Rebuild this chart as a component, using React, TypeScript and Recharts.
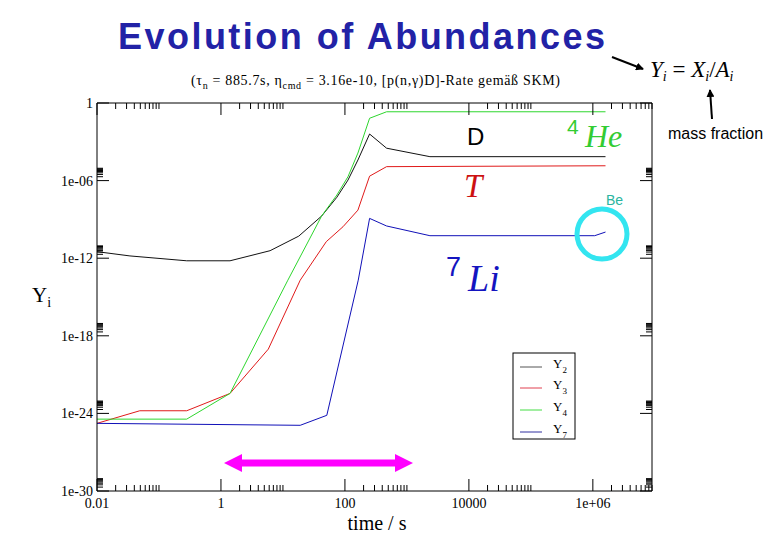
import { LineChart, Line, XAxis, YAxis } from 'recharts';

// time grid (s) and abundances Y_i
const timeY2 = [0.01, 0.034, 0.28, 1.4, 6.2, 18, 42, 74, 112, 162, 250, 470, 2350, 1.6e6];
const valY2 = [3.2e-12, 1.5e-12, 6.3e-13, 6.3e-13, 3.8e-12, 5.1e-11, 1.8e-9, 5.1e-8, 1.1e-6, 3.9e-5, 4.0e-3, 3.2e-4, 7.1e-5, 7.1e-5];

const timeY3 = [0.01, 0.049, 0.28, 1.4, 5.8, 19, 50, 93, 162, 250, 470, 1.6e6];
const valY3 = [1.7e-25, 1.6e-24, 1.6e-24, 3.5e-23, 9.3e-20, 2.0e-14, 1.9e-11, 2.7e-10, 5.2e-9, 2.2e-6, 1.2e-5, 1.4e-5];

const timeY4 = [0.01, 0.28, 1.4, 12, 42, 74, 112, 162, 250, 470, 1.6e6];
const valY4 = [3.6e-25, 3.6e-25, 3.5e-23, 2.0e-14, 1.8e-9, 7.6e-8, 2.0e-6, 1.35e-4, 0.066, 0.21, 0.21];

const timeY7 = [0.01, 19, 51, 164, 250, 470, 2350, 1.07e6, 1.6e6];
const valY7 = [1.7e-25, 1.2e-25, 7.1e-25, 2.0e-14, 1.2e-9, 3.1e-10, 5.5e-11, 5.5e-11, 1.05e-10];

const xMajor = [0.01, 1, 100, 10000, 1e6];
const xMajorLabels = ['0.01', '1', '100', '10000', '1e+06'];
const yMajor = [1e-30, 1e-24, 1e-18, 1e-12, 1e-6, 1];
const yMajorLabels = ['1e-30', '1e-24', '1e-18', '1e-12', '1e-06', '1'];

const SERIF = 'Liberation Serif';
const SANS = 'Liberation Sans';

const toPoints = (ts: number[], vs: number[]) => ts.map((t, i) => ({ t, y: vs[i] }));
const series = [
  { name: 'Y2', data: toPoints(timeY2, valY2), color: '#111111' },
  { name: 'Y3', data: toPoints(timeY3, valY3), color: '#e01a1a' },
  { name: 'Y4', data: toPoints(timeY4, valY4), color: '#2ed62e' },
  { name: 'Y7', data: toPoints(timeY7, valY7), color: '#1010b8' },
];

// minor ticks: 2..10 x 10^n after each labelled decade on x, 2..9 on y
const xMinor: number[] = [];
xMajor.forEach(m => {
  for (let k = 2; k <= 10; k++) if (m * k <= 9e6) xMinor.push(m * k);
});
const yMinor: number[] = [];
yMajor.forEach(m => {
  if (m < 1) for (let k = 2; k <= 9; k++) yMinor.push(m * k);
});
const xTicks = [...xMajor, ...xMinor];
const yTicks = [...yMajor, ...yMinor];

const labelOf = (v: number, majors: number[], labels: string[]) => {
  const i = majors.findIndex(m => Math.abs(Math.log10(m) - Math.log10(v)) < 1e-6);
  return i >= 0 ? labels[i] : null;
};

const tickText = { fontFamily: SERIF, fontSize: 14, fill: '#000' };

const makeXTick = (dir: number, withLabel: boolean) => (props: any) => {
  const { x, y, payload } = props;
  const lab = labelOf(payload.value, xMajor, xMajorLabels);
  return (
    <g>
      <line x1={x} x2={x} y1={y} y2={y + dir * (lab ? 12 : 6)} stroke="#000" />
      {withLabel && lab && (
        <text x={x} y={y + 17} textAnchor="middle" style={tickText}>
          {lab}
        </text>
      )}
    </g>
  );
};

const makeYTick = (dir: number, withLabel: boolean) => (props: any) => {
  const { x, y, payload } = props;
  const lab = labelOf(payload.value, yMajor, yMajorLabels);
  return (
    <g>
      <line x1={x} x2={x + dir * (lab ? 12 : 6)} y1={y} y2={y} stroke="#000" />
      {withLabel && lab && (
        <text x={x - 4} y={y + 5} textAnchor="end" style={tickText}>
          {lab}
        </text>
      )}
    </g>
  );
};

const legendRows = [
  { sub: '2', color: '#555555', y: 367 },
  { sub: '3', color: '#e04050', y: 388 },
  { sub: '4', color: '#44dd44', y: 410 },
  { sub: '7', color: '#3030a0', y: 432 },
];

const Overlay = () => (
  <svg width={780} height={540} style={{ position: 'absolute', left: 0, top: 0, pointerEvents: 'none' }}>
    <defs>
      <marker id="ah" markerWidth="8" markerHeight="8" refX="7" refY="4" orient="auto" markerUnits="userSpaceOnUse">
        <path d="M0,0 L8,4 L0,8 Z" fill="#000" />
      </marker>
    </defs>
    <text x={118} y={49} fontFamily={SANS} fontWeight="bold" fontSize={36} fill="#2222a6" textLength={487} lengthAdjust="spacing">
      Evolution of Abundances
    </text>
    <text x={191} y={85} fontFamily={SERIF} fontSize={14} fill="#000" textLength={369} lengthAdjust="spacing">
      (τ<tspan dy={4} fontSize={10}>n</tspan>
      <tspan dy={-4}> = 885.7s, η</tspan>
      <tspan dy={4} fontSize={10}>cmd</tspan>
      <tspan dy={-4}> = 3.16e-10,  [p(n,γ)D]-Rate gemäß SKM)</tspan>
    </text>

    <line x1={612} y1={57} x2={643} y2={69} stroke="#000" strokeWidth={2} markerEnd="url(#ah)" />
    <text x={650} y={77} fontFamily={SERIF} fontSize={23} fill="#000">
      <tspan fontStyle="italic">Y</tspan>
      <tspan dy={4} fontSize={14} fontStyle="italic">i</tspan>
      <tspan dy={-4}> = </tspan>
      <tspan fontStyle="italic">X</tspan>
      <tspan dy={4} fontSize={14} fontStyle="italic">i</tspan>
      <tspan dy={-4}>/</tspan>
      <tspan fontStyle="italic">A</tspan>
      <tspan dy={4} fontSize={14} fontStyle="italic">i</tspan>
    </text>
    <line x1={712} y1={119} x2={710} y2={90} stroke="#000" strokeWidth={2} markerEnd="url(#ah)" />
    <text x={668} y={139} fontFamily={SANS} fontSize={16} fill="#000">mass fraction</text>

    <text x={467} y={145} fontFamily={SANS} fontSize={24} fill="#000">D</text>
    <text x={567} y={134} fontFamily={SANS} fontSize={21} fill="#33cc33">4</text>
    <text x={585} y={147} fontFamily={SERIF} fontStyle="italic" fontSize={32} fill="#33cc33">He</text>
    <text x={464} y={197} fontFamily={SERIF} fontStyle="italic" fontSize={33} fill="#cc1111">T</text>
    <text x={446} y={276} fontFamily={SANS} fontSize={27} fill="#1414c0">7</text>
    <text x={468} y={291} fontFamily={SERIF} fontStyle="italic" fontSize={38} fill="#1414c0">Li</text>
    <text x={606} y={205} fontFamily={SANS} fontSize={14} fill="#2bb5a0">Be</text>
    <circle cx={602} cy={234} r={25} fill="none" stroke="#33e5f0" strokeWidth={5} />

    <polygon points="224,463 242,454 242,459.5 395,459.5 395,454 413,463 395,472 395,466.5 242,466.5 242,472" fill="#ff00ff" />

    <rect x={513} y={353} width={62} height={86} fill="#fff" stroke="#000" />
    {legendRows.map(r => (
      <g key={r.sub}>
        <line x1={520} x2={542} y1={r.y} y2={r.y} stroke={r.color} />
        <text x={553} y={r.y + 1} fontFamily={SERIF} fontSize={13} fill="#000">
          Y<tspan dy={5} fontSize={9}>{r.sub}</tspan>
        </text>
      </g>
    ))}

    <text x={32} y={302} fontFamily={SERIF} fontSize={21} fill="#000">
      Y<tspan dy={5} fontSize={14}>i</tspan>
    </text>
    <text x={377} y={530} textAnchor="middle" fontFamily={SERIF} fontSize={20} fill="#000">time / s</text>
  </svg>
);

export default function App() {
  return (
    <div style={{ position: 'absolute', left: 0, top: 0, width: 780, height: 540, background: '#fff' }}>
      <LineChart width={780} height={540} margin={{ top: 93, right: 118, bottom: 19, left: 37 }}>
        <XAxis xAxisId="bottom" dataKey="t" type="number" scale="log" domain={[0.01, 9e6]} allowDataOverflow
          ticks={xTicks} interval={0} height={30} tickSize={0} tickMargin={0} tickLine={false}
          axisLine={{ stroke: '#000' }} tick={makeXTick(-1, true)} />
        <XAxis xAxisId="top" orientation="top" dataKey="t" type="number" scale="log" domain={[0.01, 9e6]} allowDataOverflow
          ticks={xTicks} interval={0} height={10} tickSize={0} tickMargin={0} tickLine={false}
          axisLine={{ stroke: '#000' }} tick={makeXTick(1, false)} />
        <YAxis yAxisId="left" dataKey="y" type="number" scale="log" domain={[1e-30, 1]} allowDataOverflow
          ticks={yTicks} interval={0} width={60} tickSize={0} tickMargin={0} tickLine={false}
          axisLine={{ stroke: '#000' }} tick={makeYTick(1, true)} />
        <YAxis yAxisId="right" orientation="right" dataKey="y" type="number" scale="log" domain={[1e-30, 1]} allowDataOverflow
          ticks={yTicks} interval={0} width={10} tickSize={0} tickMargin={0} tickLine={false}
          axisLine={{ stroke: '#000' }} tick={makeYTick(-1, false)} />
        {series.map(s => (
          <Line key={s.name} xAxisId="bottom" yAxisId="left" data={s.data} dataKey="y" name={s.name}
            type="linear" stroke={s.color} strokeWidth={1} dot={false} isAnimationActive={false} />
        ))}
      </LineChart>
      <Overlay />
    </div>
  );
}
